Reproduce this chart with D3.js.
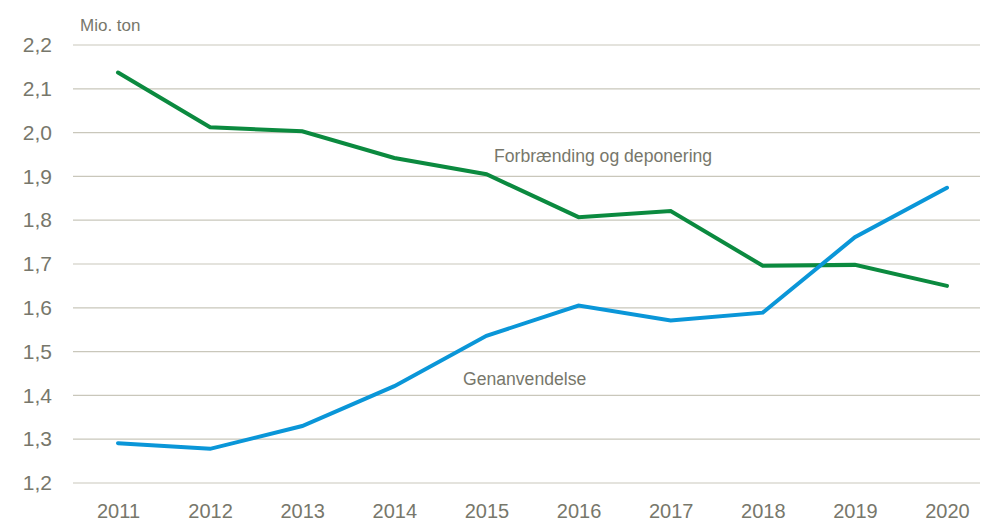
<!DOCTYPE html>
<html><head><meta charset="utf-8">
<script src="https://cdn.jsdelivr.net/npm/d3@7"></script>
<style>body{margin:0;background:#fff}svg{display:block}text{font-family:"Liberation Sans",Arial,sans-serif;fill:#77776b}</style>
</head><body><svg id="c" width="982" height="523"></svg>
<script>
const years = [2011,2012,2013,2014,2015,2016,2017,2018,2019,2020];
const forbraending = [2.137,2.012,2.003,1.942,1.905,1.807,1.821,1.696,1.698,1.650];
const genanvendelse = [1.291,1.278,1.330,1.421,1.536,1.605,1.571,1.589,1.761,1.874];
const yTicks = [1.2,1.3,1.4,1.5,1.6,1.7,1.8,1.9,2.0,2.1,2.2];

const svg = d3.select("#c");
const x = d3.scaleLinear().domain([2011,2020]).range([118,947]);
const y = d3.scaleLinear().domain([1.2,2.2]).range([483,45]);

svg.append("g").selectAll("line").data(yTicks).join("line")
  .attr("x1",73).attr("x2",980).attr("y1",d=>y(d)).attr("y2",d=>y(d))
  .attr("stroke","#c9c7bb").attr("stroke-width",1.2);

const fmt = d => d3.format(".1f")(d).replace(".",",");
const yAxis = d3.axisLeft(y).tickValues(yTicks).tickFormat(fmt).tickSize(0).tickPadding(0);
const gy = svg.append("g").attr("transform","translate(52,0)").call(yAxis);
gy.select(".domain").remove();
gy.selectAll("text").attr("font-size",21).attr("font-family","Liberation Sans, Arial, sans-serif").attr("fill","#77776b");

const xAxis = d3.axisBottom(x).tickValues(years).tickFormat(d3.format("d")).tickSize(0).tickPadding(0);
const gx = svg.append("g").attr("transform","translate(0,504)").call(xAxis);
gx.select(".domain").remove();
gx.selectAll("text").attr("font-size",20).attr("font-family","Liberation Sans, Arial, sans-serif").attr("fill","#77776b");

const line = d3.line().x((d,i)=>x(years[i])).y(d=>y(d));
svg.append("path").datum(forbraending).attr("d",line).attr("fill","none")
  .attr("stroke","#0b8a3f").attr("stroke-width",4).attr("stroke-linejoin","miter").attr("stroke-linecap","round");
svg.append("path").datum(genanvendelse).attr("d",line).attr("fill","none")
  .attr("stroke","#0a96d8").attr("stroke-width",4).attr("stroke-linejoin","miter").attr("stroke-linecap","round");

svg.append("text").attr("x",80).attr("y",31).attr("font-size",17).text("Mio. ton");
svg.append("text").attr("x",494).attr("y",162).attr("font-size",17.6).text("Forbrænding og deponering");
svg.append("text").attr("x",463).attr("y",385).attr("font-size",17.6).text("Genanvendelse");
</script></body></html>
